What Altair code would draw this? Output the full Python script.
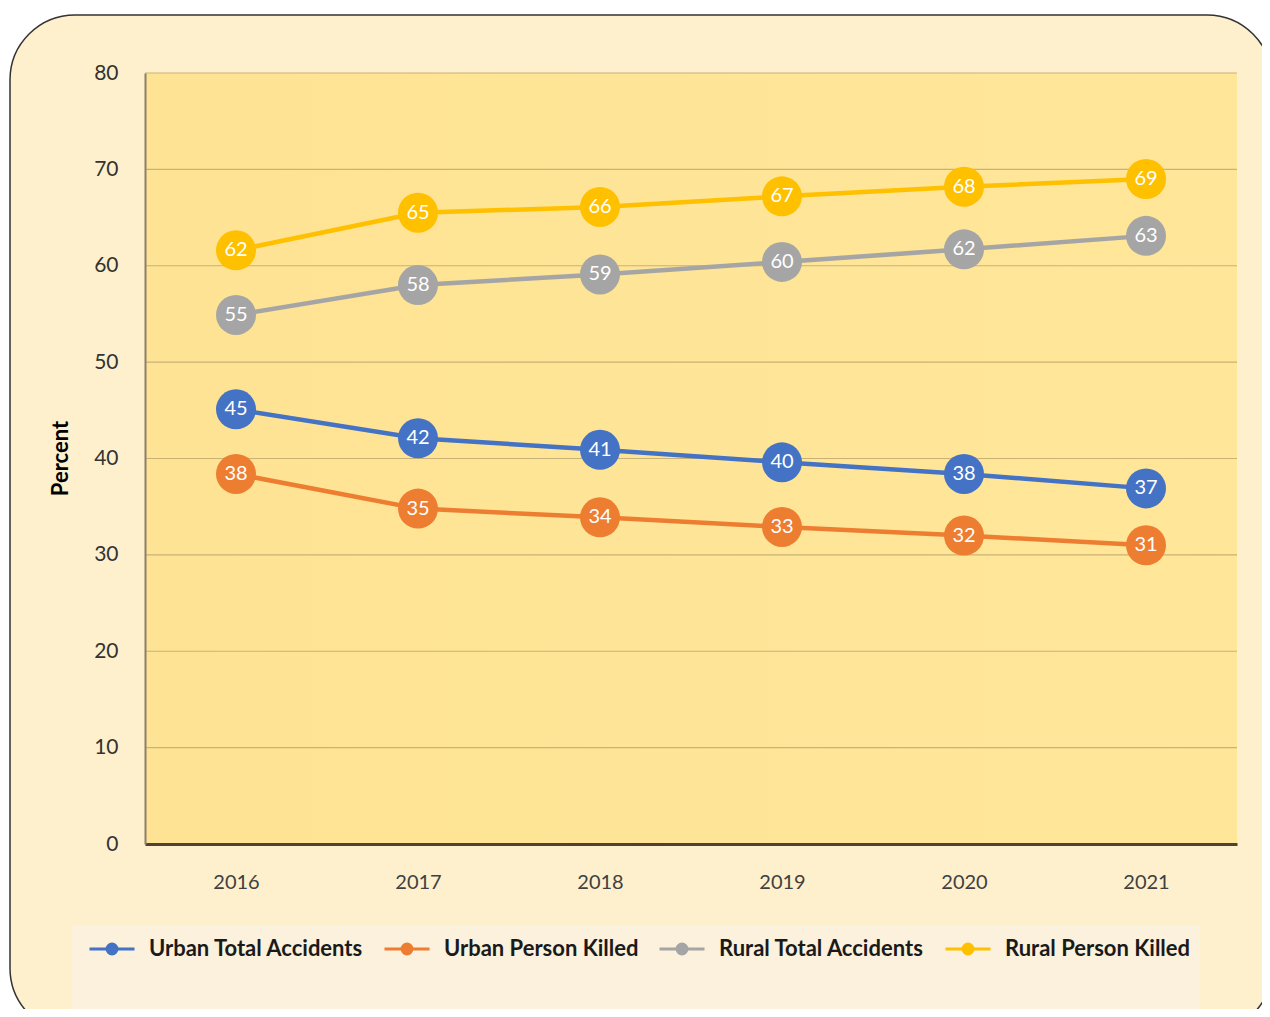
import altair as alt
import pandas as pd

years = ["2016", "2017", "2018", "2019", "2020", "2021"]
series_names = ["Urban Total Accidents", "Urban Person Killed", "Rural Total Accidents", "Rural Person Killed"]
urban_total = [45.1, 42.1, 40.9, 39.6, 38.4, 36.9]
urban_killed = [38.4, 34.8, 33.9, 32.9, 32.0, 31.0]
rural_total = [54.9, 58.0, 59.1, 60.4, 61.7, 63.1]
rural_killed = [61.6, 65.5, 66.1, 67.2, 68.2, 69.0]
urban_total_lbl = [45, 42, 41, 40, 38, 37]
urban_killed_lbl = [38, 35, 34, 33, 32, 31]
rural_total_lbl = [55, 58, 59, 60, 62, 63]
rural_killed_lbl = [62, 65, 66, 67, 68, 69]
grid_ticks = [10, 20, 30, 40, 50, 60, 70, 80]
axis_ticks = [0, 10, 20, 30, 40, 50, 60, 70, 80]
colors = ["#4472C4", "#ED7D31", "#A5A5A5", "#FFC000"]

rows = []
for name, vals, lbls in zip(series_names,
                            [urban_total, urban_killed, rural_total, rural_killed],
                            [urban_total_lbl, urban_killed_lbl, rural_total_lbl, rural_killed_lbl]):
    for i, y in enumerate(years):
        rows.append({"Year": y, "Series": name, "Value": vals[i], "Label": str(lbls[i]), "order": i})
df = pd.DataFrame(rows)

W, H = 1092, 771
one = pd.DataFrame({"a": [0]})

xscale = alt.Scale(type="point", domain=years, padding=0.5)
yscale = alt.Scale(domain=[0, 80], nice=False)
cscale = alt.Scale(domain=series_names, range=colors)

y_axis = alt.Axis(zindex=1, values=axis_ticks, labelFont="Lato",
                  labelFontSize=21, labelColor="#333333", labelPadding=27, ticks=False,
                  domainColor="#8C7F6A", domainWidth=2, grid=False,
                  titleFont="Lato", titleFontSize=22, titleFontWeight="bold", titleColor="#000000",
                  titleX=-85, titleY=385, titleAngle=270, titleAlign="center",
                  titleBaseline="middle")
x_axis = alt.Axis(zindex=1, labelAngle=0, labelFont="Lato", labelFontSize=20, labelColor="#404040",
                  labelPadding=28, ticks=False, domainColor="#4E4232", domainWidth=3, grid=False)

frame = alt.Chart(one).mark_rect(cornerRadius=65, fill="#FEF0CD", stroke="#333333", strokeWidth=1.5).encode(
    x=alt.value(-135), x2=alt.value(1127), y=alt.value(-58), y2=alt.value(960))

legend_box = alt.Chart(one).mark_rect(fill="#FBF1DC").encode(
    x=alt.value(-73), x2=alt.value(1055), y=alt.value(852), y2=alt.value(960))

plot_bg = alt.Chart(one).mark_rect(
    fill=alt.Gradient(gradient="linear", x1=0, x2=1, y1=0, y2=0,
                      stops=[alt.GradientStop(color="#FEE394", offset=0),
                             alt.GradientStop(color="#FFE699", offset=1)])).encode(
    x=alt.value(0), x2=alt.value(W), y=alt.value(0), y2=alt.value(H))

grid = alt.Chart(pd.DataFrame({"v": grid_ticks})).mark_rule(color="#C9B274", strokeWidth=1.2).encode(
    y=alt.Y("v:Q", scale=yscale, title="Percent", axis=y_axis), x=alt.value(0), x2=alt.value(W))

base = alt.Chart(df)

legend = alt.Legend(title=None, orient="none", legendX=-57, legendY=852, direction="horizontal",
                    symbolType="M-1,0L1,0M-0.22,0A0.22,0.22,0,1,0,0.22,0A0.22,0.22,0,1,0,-0.22,0",
                    symbolSize=2025, symbolStrokeWidth=3, labelOffset=13, columnPadding=14,
                    labelFont="Lato", labelFontSize=22, labelFontWeight="bold", labelColor="#1A1A1A",
                    padding=0, labelLimit=400)

lines = base.mark_line(strokeWidth=4.5).encode(
    x=alt.X("Year:N", scale=xscale, sort=years, title=None, axis=x_axis),
    y=alt.Y("Value:Q", scale=yscale, title="Percent", axis=y_axis),
    order="order:Q",
    color=alt.Color("Series:N", scale=cscale, sort=series_names, legend=legend))

points = base.mark_circle(size=1600, opacity=1).encode(
    x=alt.X("Year:N", scale=xscale, sort=years), y=alt.Y("Value:Q", scale=yscale),
    color=alt.Color("Series:N", scale=cscale, sort=series_names, legend=legend))

labels = base.mark_text(color="white", font="Lato", fontSize=20, align="center", baseline="middle").encode(
    x=alt.X("Year:N", scale=xscale, sort=years), y=alt.Y("Value:Q", scale=yscale), text="Label:N")

chart = alt.layer(frame, legend_box, plot_bg, grid, lines, points, labels).properties(
    width=W, height=H, autosize="none",
    padding={"left": 137, "top": 65, "right": 25, "bottom": 165},
    background="white"
).configure_view(stroke=None)

chart.save("out.html", embed_options={"renderer": "svg", "actions": False})
